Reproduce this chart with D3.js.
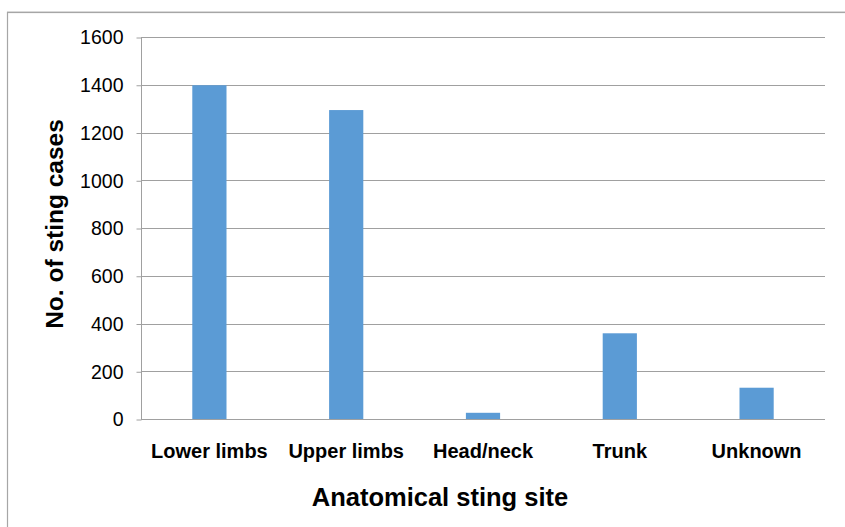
<!DOCTYPE html>
<html>
<head>
<meta charset="utf-8">
<script src="https://cdn.jsdelivr.net/npm/d3@7"></script>
<style>
  html, body { margin: 0; padding: 0; background: #fff; }
  svg { display: block; }
  text { font-family: "Liberation Sans", Arial, sans-serif; fill: #000; }
</style>
</head>
<body>
<svg id="chart" width="845" height="527"></svg>
<script>
const categories = ["Lower limbs", "Upper limbs", "Head/neck", "Trunk", "Unknown"];
const values = [1398, 1294, 26, 359, 131];
const yTicks = [0, 200, 400, 600, 800, 1000, 1200, 1400, 1600];
const xTitle = "Anatomical sting site";
const yTitle = "No. of sting cases";

const svg = d3.select("#chart");
const W = 845, H = 527;
const m = { left: 141, right: 20, top: 37, bottom: 108 };

// outer frame
svg.append("rect")
  .attr("x", 7.5).attr("y", 12.5)
  .attr("width", W + 20).attr("height", H + 20)
  .attr("fill", "none").attr("stroke", "#a6a6a6").attr("stroke-width", 1.2);
svg.append("line")
  .attr("x1", 7).attr("x2", W).attr("y1", 11.5).attr("y2", 11.5)
  .attr("stroke", "#d9d9d9").attr("stroke-width", 1);

const x = d3.scaleBand()
  .domain(categories)
  .range([m.left, W - m.right])
  .paddingInner(0.75)
  .paddingOuter(0.375);

const y = d3.scaleLinear()
  .domain([0, 1600])
  .range([H - m.bottom, m.top]);

// gridlines
svg.append("g")
  .selectAll("line")
  .data(yTicks)
  .join("line")
  .attr("x1", m.left).attr("x2", W - m.right)
  .attr("y1", d => Math.round(y(d)) + 0.5)
  .attr("y2", d => Math.round(y(d)) + 0.5)
  .attr("stroke", "#a0a0a0").attr("stroke-width", 1);

// y axis
const yAxis = svg.append("g")
  .attr("transform", `translate(${m.left + 0.5},0.5)`)
  .call(d3.axisLeft(y).tickValues(yTicks).tickFormat(d3.format("d")).tickSize(5).tickPadding(13));
yAxis.select(".domain").attr("stroke", "#a0a0a0").attr("d", `M0,${Math.round(y(0))}V${Math.round(y(1600))}`);
yAxis.selectAll(".tick line").attr("stroke", "#a0a0a0");
yAxis.selectAll(".tick text")
  .attr("font-size", 19.5)
  .attr("font-family", "'Liberation Sans', Arial, sans-serif")
  .attr("fill", "#000");

// bars
svg.append("g")
  .selectAll("rect")
  .data(values)
  .join("rect")
  .attr("x", (d, i) => x(categories[i]))
  .attr("width", x.bandwidth())
  .attr("y", d => y(d))
  .attr("height", d => y(0) - y(d))
  .attr("fill", "#5B9BD5");

// category labels
svg.append("g")
  .selectAll("text")
  .data(categories)
  .join("text")
  .attr("x", d => x(d) + x.bandwidth() / 2)
  .attr("y", 458)
  .attr("text-anchor", "middle")
  .attr("font-size", 20)
  .attr("font-weight", "bold")
  .text(d => d);

// x title
svg.append("text")
  .attr("x", 440)
  .attr("y", 506)
  .attr("text-anchor", "middle")
  .attr("font-size", 25.5)
  .attr("font-weight", "bold")
  .text(xTitle);

// y title
svg.append("text")
  .attr("transform", "translate(63,224) rotate(-90)")
  .attr("text-anchor", "middle")
  .attr("font-size", 24.5)
  .attr("font-weight", "bold")
  .text(yTitle);
</script>
</body>
</html>
